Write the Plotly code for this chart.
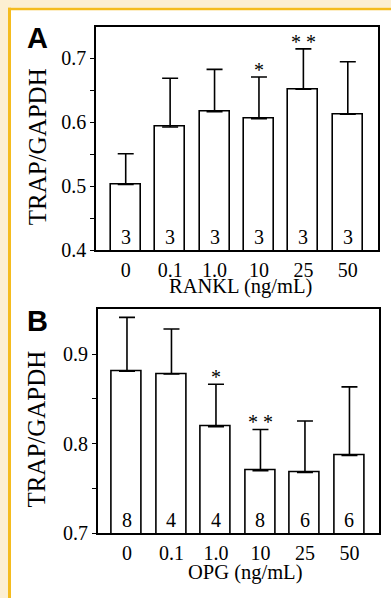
import plotly.graph_objects as go

categories = ["0", "0.1", "1.0", "10", "25", "50"]

rankl_mean = [0.503, 0.593, 0.617, 0.606, 0.652, 0.613]
rankl_err = [0.048, 0.076, 0.066, 0.065, 0.063, 0.082]
rankl_n = ["3", "3", "3", "3", "3", "3"]
rankl_sig = ["", "", "", "*", "* *", ""]

opg_mean = [0.881, 0.878, 0.819, 0.770, 0.768, 0.787]
opg_err = [0.060, 0.050, 0.0475, 0.046, 0.0575, 0.0765]
opg_n = ["8", "4", "4", "8", "6", "6"]
opg_sig = ["", "", "*", "* *", "", ""]

W, H = 391, 609
SERIF = "Liberation Serif"
SANS = "Liberation Sans"


def px(x):
    return x / W


def py(y):
    return 1 - y / H


fig = go.Figure()

panels = [
    dict(mean=rankl_mean, err=rankl_err, n=rankl_n, sig=rankl_sig, xa="x", ya="y",
         xd=[px(96), px(378)], yd=[py(255), py(27)], yr=[0.4, 0.75],
         tv=[0.4, 0.45, 0.5, 0.55, 0.6, 0.65, 0.7], tt=["0.4", "", "0.5", "", "0.6", "", "0.7"],
         xr=[-0.669, 5.68], title="RANKL (ng/mL)", tx=241, ty=292, ytc=150, letter="A", ly=39),
    dict(mean=opg_mean, err=opg_err, n=opg_n, sig=opg_sig, xa="x2", ya="y2",
         xd=[px(97.7), px(379)], yd=[py(543.3), py(315)], yr=[0.7, 0.95],
         tv=[0.7, 0.75, 0.8, 0.85, 0.9], tt=["0.7", "", "0.8", "", "0.9"],
         xr=[-0.658, 5.664], title="OPG (ng/mL)", tx=245, ty=583, ytc=437.5, letter="B", ly=327),
]

annotations = []
layout_axes = {}
for i, p in enumerate(panels):
    idx = list(range(len(categories)))
    fig.add_trace(go.Bar(
        x=idx, y=p["mean"], xaxis=p["xa"], yaxis=p["ya"],
        width=0.676,
        marker=dict(color="white", line=dict(color="black", width=1.6)),
        error_y=dict(type="data", array=p["err"], arrayminus=[0] * 6, symmetric=False,
                     color="black", thickness=1.6, width=8),
        showlegend=False, hoverinfo="skip",
    ))
    suffix = "" if i == 0 else "2"
    layout_axes["xaxis" + suffix] = dict(
        domain=p["xd"], anchor="y" + suffix, range=p["xr"],
        tickmode="array", tickvals=idx, ticktext=categories,
        showline=True, linecolor="black", linewidth=1.6, mirror=True,
        ticks="", showgrid=False, zeroline=False, ticklabelstandoff=1,
        tickfont=dict(family=SERIF, size=20, color="black"),
    )
    layout_axes["yaxis" + suffix] = dict(
        domain=p["yd"], anchor="x" + suffix, range=p["yr"],
        showline=True, linecolor="black", linewidth=1.6, mirror=True,
        ticks="outside", ticklen=4, tickwidth=1.4, tickcolor="black",
        tickvals=p["tv"], ticktext=p["tt"], showgrid=False, zeroline=False,
        tickfont=dict(family=SERIF, size=20, color="black"),
    )
    xref, yref = p["xa"], p["ya"]
    for j, (m, e, n, s) in enumerate(zip(p["mean"], p["err"], p["n"], p["sig"])):
        annotations.append(dict(x=j, y=p["yr"][0], xref=xref, yref=yref, text=n,
                                showarrow=False, yanchor="bottom", yshift=0,
                                font=dict(family=SERIF, size=20, color="black")))
        if s:
            annotations.append(dict(x=j, y=m + e, xref=xref, yref=yref, text=s,
                                    showarrow=False, yanchor="bottom", yshift=-6,
                                    font=dict(family=SERIF, size=20, color="black")))
    annotations.append(dict(x=px(p["tx"]), y=py(p["ty"]), xref="paper", yref="paper",
                            text=p["title"], showarrow=False, xanchor="center", yanchor="middle",
                            font=dict(family=SERIF, size=20.5, color="black")))
    annotations.append(dict(x=px(37), y=py(p["ytc"]), xref="paper", yref="paper",
                            text="TRAP/GAPDH", textangle=-90, showarrow=False,
                            xanchor="center", yanchor="middle",
                            font=dict(family=SERIF, size=25, color="black")))
    annotations.append(dict(x=px(37.5), y=py(p["ly"]), xref="paper", yref="paper",
                            text="<b>" + p["letter"] + "</b>", showarrow=False,
                            xanchor="center", yanchor="middle",
                            font=dict(family=SANS, size=29, color="black")))

shapes = [
    dict(type="rect", xref="paper", yref="paper", x0=0, x1=1, y0=py(8), y1=1,
         fillcolor="#FCEFD2", line=dict(width=0), layer="below"),
    dict(type="rect", xref="paper", yref="paper", x0=0, x1=px(8), y0=0, y1=1,
         fillcolor="#FCEFD2", line=dict(width=0), layer="below"),
    dict(type="rect", xref="paper", yref="paper", x0=px(8), x1=1, y0=py(10.5), y1=py(8),
         fillcolor="#F5BC1E", line=dict(width=0), layer="below"),
    dict(type="rect", xref="paper", yref="paper", x0=px(8), x1=px(11), y0=0, y1=py(8),
         fillcolor="#F5BC1E", line=dict(width=0), layer="below"),
]

fig.update_layout(
    width=W, height=H, margin=dict(l=0, r=0, t=0, b=0),
    paper_bgcolor="white", plot_bgcolor="white",
    annotations=annotations, shapes=shapes, bargap=0,
    **layout_axes,
)

fig.write_html("out.html")
